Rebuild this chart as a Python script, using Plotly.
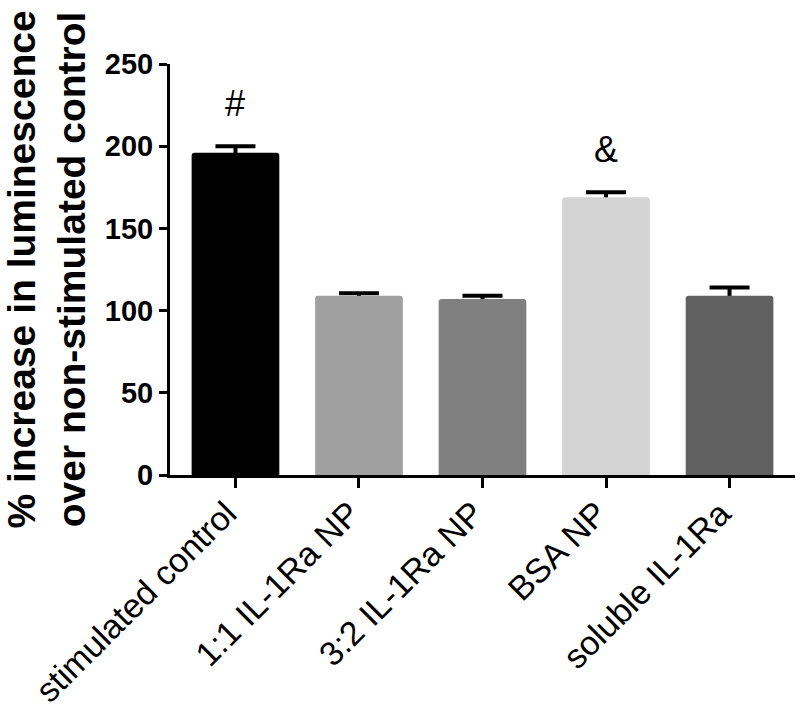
import plotly.graph_objects as go

categories = ["stimulated control", "1:1 IL-1Ra NP", "3:2 IL-1Ra NP", "BSA NP", "soluble IL-1Ra"]
values = [196, 109, 107, 169, 109]
errors = [4, 1.5, 2, 3, 5]
bar_colors = ["#000000", "#a0a0a0", "#808080", "#d4d4d4", "#606060"]
marks = ["#", "", "", "&", ""]
y_title = "% increase in luminescence<br>over non-stimulated control"
y_ticks = [0, 50, 100, 150, 200, 250]

FONT = "Liberation Sans, Arial, sans-serif"
xpos = list(range(len(categories)))

fig = go.Figure()
# error bars first so the bars cover their lower half
fig.add_trace(go.Bar(
    x=xpos, y=values, width=0.71,
    marker=dict(color="rgba(0,0,0,0)", line=dict(width=0)),
    error_y=dict(type="data", array=errors, symmetric=True, color="black", thickness=4, width=20),
    hoverinfo="skip", showlegend=False,
))
fig.add_trace(go.Bar(
    x=xpos, y=values, width=0.71,
    marker=dict(color=bar_colors, line=dict(width=0), cornerradius=3),
    showlegend=False,
))

for i, m in enumerate(marks):
    if m:
        fig.add_annotation(x=xpos[i], y=values[i] + errors[i], xref="x", yref="y",
                           text=m, showarrow=False, yanchor="bottom", yshift=20,
                           font=dict(family=FONT, size=36, color="black"))

fig.add_annotation(x=0, y=0.5, xref="paper", yref="paper", text=y_title,
                   textangle=-90, showarrow=False, xanchor="center", yanchor="middle",
                   xshift=-124,
                   font=dict(family=FONT, size=39, color="black", weight=700))

fig.update_layout(
    width=800, height=708,
    margin=dict(l=170, r=5, t=64, b=233),
    paper_bgcolor="white", plot_bgcolor="white",
    barmode="overlay",
    font=dict(family=FONT, color="black"),
    xaxis=dict(
        range=[-0.53, 4.53], tickmode="array", tickvals=xpos, ticktext=categories,
        tickangle=-45, showline=True, linewidth=3, linecolor="black",
        ticks="outside", ticklen=10, tickwidth=3, tickcolor="black",
        showgrid=False, zeroline=False, automargin=False,
        ticklabelstandoff=-8, ticklabelshift=-9,
        tickfont=dict(family=FONT, size=34, color="black"),
    ),
    yaxis=dict(
        range=[0, 250], tickmode="array", tickvals=y_ticks,
        showline=True, linewidth=3, linecolor="black",
        ticks="outside", ticklen=8, tickwidth=3, tickcolor="black",
        showgrid=False, zeroline=False, automargin=False,
        tickfont=dict(family=FONT, size=29, color="black", weight=700),
    ),
)

fig.write_html("out.html", config={"displayModeBar": False},
               post_script="document.body.style.margin='0';document.body.style.overflow='hidden';")
